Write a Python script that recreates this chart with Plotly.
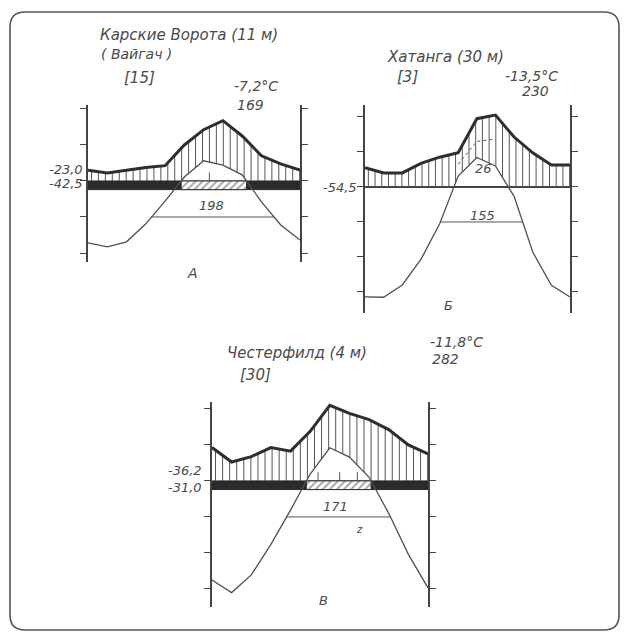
import numpy as np
import plotly.graph_objects as go

W, H = 624, 634
MONTHS = np.arange(1, 13)
MM_PER_DEG = 2.0      # 10 °C on the left scale = 20 mm on the right scale
DRY_MM_PER_DEG = 3.0  # auxiliary precipitation scale (dashed curve)
BAND_DEPTH = 2.4      # thickness of the frost band below 0 °C

# Карские Ворота (Вайгач) — monthly mean temperature, °C, and precipitation, mm
KARA_T = [-17.2, -18.3, -16.9, -11.9, -5.6, 1.1, 5.6, 4.4, 1.7, -5.8, -12.2, -16.4]
KARA_P = [6.0, 4.5, 6.0, 7.5, 8.5, 20.0, 28.5, 33.5, 25.0, 14.0, 9.5, 6.0]
KARA_MARKS = [7.3]

# Хатанга
KHAT_T = [-31.4, -31.5, -28.0, -20.7, -10.6, 3.1, 8.4, 6.0, -2.7, -18.6, -28.1, -31.4]
KHAT_P = [11.0, 8.0, 8.0, 13.5, 17.0, 19.5, 39.0, 41.0, 28.5, 19.5, 12.5, 12.5]

# Честерфилд
CHES_T = [-27.5, -31.0, -26.1, -17.6, -8.1, 1.9, 9.2, 6.6, 1.0, -9.0, -20.4, -29.7]
CHES_P = [18.5, 10.5, 13.5, 18.5, 16.5, 27.5, 42.0, 37.5, 34.0, 28.5, 20.0, 15.0]
CHES_MARKS = [6.4, 7.5, 8.4]

PEN = "#555555"
FONT = "DejaVu Sans, Liberation Sans, sans-serif"


def fx(px):
    return px / W


def fy(py):
    return 1 - py / H


def crossings(t, level):
    out = []
    for i in range(len(t) - 1):
        a, b = t[i] - level, t[i + 1] - level
        if a * b < 0:
            out.append(MONTHS[i] + a / (a - b))
    return out


panels = [
    dict(t=KARA_T, p=KARA_P, box=(88, 300, 105, 262), yr=(-22.5, 21.1),
         ticks=[-20, -10, 0, 10, 20], band=True, marks=KARA_MARKS, dry=False),
    dict(t=KHAT_T, p=KHAT_P, box=(365, 570, 105, 313), yr=(-36.0, 23.4),
         ticks=[-30, -20, -10, 0, 10, 20], band=False, marks=[], dry=True),
    dict(t=CHES_T, p=CHES_P, box=(212, 428, 402, 607), yr=(-35.0, 21.9),
         ticks=[-30, -20, -10, 0, 10, 20], band=True, marks=CHES_MARKS, dry=False),
]

fig = go.Figure()
layout = {}

for k, pan in enumerate(panels, start=1):
    t = np.array(pan["t"], dtype=float)
    p = np.array(pan["p"], dtype=float)
    L, R, T, B = pan["box"]
    xa, ya, yr_ax = f"x{k}", f"y{k}", f"y{k + 3}"

    # vertical hatching between the precipitation curve and max(temperature, 0)
    xg = np.arange(1.18, 12.0, 0.36)
    tg = np.interp(xg, MONTHS, t)
    pg = np.interp(xg, MONTHS, p) / MM_PER_DEG
    lo = np.maximum(tg, 0.0)
    hx, hy = [], []
    for xv, l, u in zip(xg, lo, pg):
        if u > l:
            hx += [xv, xv, None]
            hy += [l, u, None]
    fig.add_trace(go.Scatter(x=hx, y=hy, mode="lines", xaxis=xa, yaxis=ya,
                             line=dict(color=PEN, width=1), hoverinfo="skip",
                             showlegend=False))

    # frost band: solid where T < 0, diagonal hatching where T > 0
    if pan["band"]:
        fig.add_trace(go.Scatter(x=[1, 12, 12, 1, 1], y=[0, 0, -BAND_DEPTH, -BAND_DEPTH, 0],
                                 mode="lines", fill="toself", fillcolor="#2b2b2b",
                                 line=dict(color="#2b2b2b", width=1), xaxis=xa, yaxis=ya,
                                 hoverinfo="skip", showlegend=False))
        z = crossings(t, 0.0)
        if len(z) >= 2:
            x0, x1 = z[0], z[-1]
            fig.add_trace(go.Scatter(x=[x0, x1, x1, x0, x0],
                                     y=[0, 0, -BAND_DEPTH, -BAND_DEPTH, 0],
                                     mode="lines", fill="toself", fillcolor="white",
                                     fillpattern=dict(shape="/", fgcolor="#444", bgcolor="white",
                                                      size=5, solidity=0.35),
                                     line=dict(color="#333", width=1), xaxis=xa, yaxis=ya,
                                     hoverinfo="skip", showlegend=False))
        mx, my = [], []
        for m in pan["marks"]:
            mx += [m, m, None]
            my += [0, BAND_DEPTH, None]
        if mx:
            fig.add_trace(go.Scatter(x=mx, y=my, mode="lines", xaxis=xa, yaxis=ya,
                                     line=dict(color=PEN, width=1), hoverinfo="skip",
                                     showlegend=False))

    # -10 °C period line
    c = crossings(t, -10.0)
    if len(c) >= 2:
        fig.add_trace(go.Scatter(x=[c[0], c[-1]], y=[-10, -10], mode="lines",
                                 xaxis=xa, yaxis=ya, line=dict(color=PEN, width=1),
                                 hoverinfo="skip", showlegend=False))

    # auxiliary dashed precipitation curve
    if pan["dry"]:
        fig.add_trace(go.Scatter(x=MONTHS[5:8], y=p[5:8] / DRY_MM_PER_DEG, mode="lines",
                                 xaxis=xa, yaxis=ya,
                                 line=dict(color=PEN, width=1, dash="3px,3px"),
                                 hoverinfo="skip", showlegend=False))

    # temperature curve
    fig.add_trace(go.Scatter(x=MONTHS, y=t, mode="lines", xaxis=xa, yaxis=ya,
                             line=dict(color="#505050", width=1.3), hoverinfo="skip",
                             showlegend=False))
    # precipitation curve on the right (mm) scale
    fig.add_trace(go.Scatter(x=MONTHS, y=p, mode="lines", xaxis=xa, yaxis=yr_ax,
                             line=dict(color="#2e2e2e", width=3), hoverinfo="skip",
                             showlegend=False))

    lo_r, hi_r = pan["yr"]
    common = dict(showline=True, linecolor="#444", linewidth=1.6, ticks="outside",
                  ticklen=6, tickwidth=1.3, tickcolor="#444", showticklabels=False,
                  showgrid=False, fixedrange=True)
    layout[f"xaxis{k}"] = dict(domain=[fx(L), fx(R)], range=[1, 12], visible=False,
                               anchor=ya)
    layout[f"yaxis{k}"] = dict(domain=[fy(B), fy(T)], range=[lo_r, hi_r], anchor=xa,
                               tickvals=pan["ticks"], side="left",
                               zeroline=not pan["band"], zerolinecolor="#444",
                               zerolinewidth=1.6, **common)
    layout[f"yaxis{k + 3}"] = dict(range=[lo_r * MM_PER_DEG, hi_r * MM_PER_DEG],
                                   overlaying=ya, anchor=xa, side="right",
                                   tickvals=[v * MM_PER_DEG for v in pan["ticks"]],
                                   zeroline=False, **common)

# lettering: (text, x px, y px, anchor, size)
labels = [
    ("Карские Ворота (11 м)", 98, 35, "left", 15),
    ("( Вайгач )", 99, 54, "left", 14),
    ("[15]", 122, 78, "left", 15),
    ("-7,2°C", 232, 86, "left", 14),
    ("169", 235, 105, "left", 14),
    ("-23,0", 85, 169, "right", 13),
    ("-42,5", 85, 184, "right", 13),
    ("198", 211, 205, "center", 13),
    ("А", 192, 273, "center", 14),
    ("Хатанга (30 м)", 385, 57, "left", 15),
    ("[3]", 395, 77, "left", 15),
    ("-13,5°C", 503, 76, "left", 14),
    ("230", 520, 91, "left", 14),
    ("-54,5", 359, 188, "right", 13),
    ("26", 483, 168, "center", 13),
    ("155", 482, 215, "center", 13),
    ("Б", 448, 305, "center", 13),
    ("Честерфилд (4 м)", 225, 353, "left", 15),
    ("[30]", 238, 375, "left", 15),
    ("-11,8°C", 428, 342, "left", 14),
    ("282", 430, 359, "left", 14),
    ("-36,2", 204, 470, "right", 13),
    ("-31,0", 204, 487, "right", 13),
    ("171", 335, 506, "center", 13),
    ("z", 360, 529, "center", 10),
    ("В", 323, 600, "center", 13),
]
annotations = [
    dict(text=f"<i>{s}</i>", x=fx(x), y=fy(y), xref="paper", yref="paper",
         xanchor=a, yanchor="middle", showarrow=False,
         font=dict(family=FONT, size=sz, color="#4a4a4a"))
    for s, x, y, a, sz in labels
]


def rounded_rect(x0, y0, x1, y1, r):
    P = lambda x, y: f"{fx(x):.5f},{fy(y):.5f}"
    return (f"M {P(x0 + r, y0)} L {P(x1 - r, y0)} Q {P(x1, y0)} {P(x1, y0 + r)} "
            f"L {P(x1, y1 - r)} Q {P(x1, y1)} {P(x1 - r, y1)} "
            f"L {P(x0 + r, y1)} Q {P(x0, y1)} {P(x0, y1 - r)} "
            f"L {P(x0, y0 + r)} Q {P(x0, y0)} {P(x0 + r, y0)} Z")


fig.update_layout(
    width=W, height=H, margin=dict(l=0, r=0, t=0, b=0),
    paper_bgcolor="white", plot_bgcolor="rgba(0,0,0,0)",
    annotations=annotations,
    shapes=[dict(type="path", path=rounded_rect(10, 12, 619, 630, 15),
                 xref="paper", yref="paper", line=dict(color="#555", width=1.6))],
    **layout,
)

fig.write_html("out.html")
